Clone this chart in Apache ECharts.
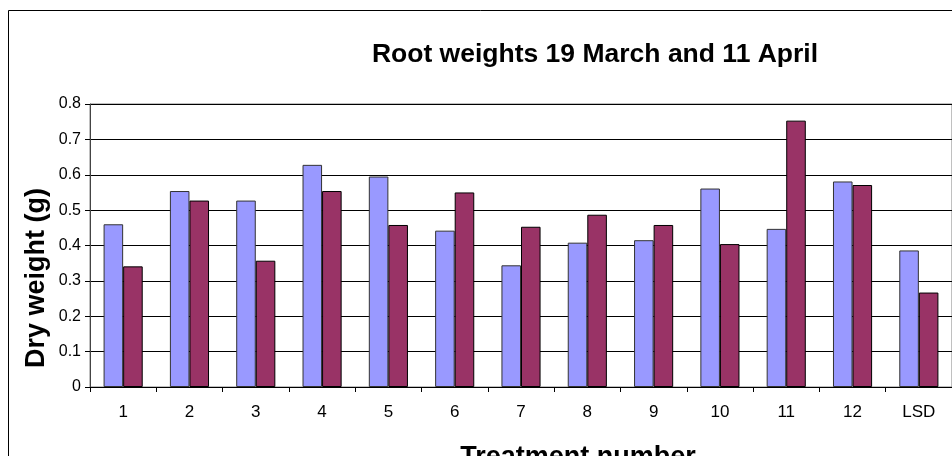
<!DOCTYPE html>
<html>
<head>
<meta charset="utf-8">
<script src="https://cdn.jsdelivr.net/npm/echarts@6/dist/echarts.min.js"></script>
<style>
  html, body { margin: 0; padding: 0; background: #fff; }
  #chart { width: 952px; height: 456px; }
</style>
</head>
<body>
<div id="chart"></div>
<script>
// treatment numbers on the x axis
const categories = ['1', '2', '3', '4', '5', '6', '7', '8', '9', '10', '11', '12', 'LSD']
// dry root weight (g)
const march19 = [0.46, 0.554, 0.527, 0.628, 0.595, 0.442, 0.344, 0.408, 0.415, 0.561, 0.447, 0.581, 0.386]
const april11 = [0.341, 0.527, 0.357, 0.554, 0.458, 0.55, 0.453, 0.487, 0.458, 0.404, 0.753, 0.571, 0.267]

const font = 'Liberation Sans, Arial, sans-serif'
const chart = echarts.init(document.getElementById('chart'))

chart.setOption({
  animation: false,
  title: [{
    text: 'Root weights 19 March and 11 April',
    left: 590,
    top: 36,
    textAlign: 'center',
    textStyle: { fontFamily: font, fontSize: 26.5, fontWeight: 'bold', color: '#000' }
  }, {
    // x axis title, centred on the (cropped) plot area like the original
    text: 'Treatment number',
    left: 573,
    top: 439,
    textAlign: 'center',
    textStyle: { fontFamily: font, fontSize: 27, fontWeight: 'bold', color: '#000' }
  }],
  graphic: [{
    // outer chart border
    type: 'rect',
    shape: { x: 8.5, y: 10.5, width: 1000, height: 500 },
    style: { fill: 'none', stroke: '#000', lineWidth: 1 },
    silent: true
  }, {
    // y axis title
    type: 'text',
    x: 37,
    y: 278,
    rotation: Math.PI / 2,
    style: {
      text: 'Dry weight (g)',
      font: 'bold 27px ' + font,
      fill: '#000',
      align: 'center',
      verticalAlign: 'middle'
    },
    silent: true
  }],
  grid: {
    left: 90,
    top: 104,
    width: 874,
    height: 283,
    show: true,
    borderColor: '#808080',
    borderWidth: 1
  },
  xAxis: {
    type: 'category',
    data: categories,
    axisLine: { lineStyle: { color: '#000', width: 1 } },
    axisTick: { show: true, alignWithLabel: false, length: 5, inside: false, lineStyle: { color: '#000' } },
    axisLabel: { fontFamily: font, fontSize: 17, color: '#000', margin: 17 }
  },
  yAxis: {
    type: 'value',
    min: 0,
    max: 0.8,
    interval: 0.1,
    axisLine: { show: true, lineStyle: { color: '#444', width: 1 } },
    axisTick: { show: true, length: 5, lineStyle: { color: '#000' } },
    axisLabel: {
      fontFamily: font, fontSize: 16, color: '#000', margin: 9,
      formatter: v => (v === 0 ? '0' : v.toFixed(1))
    },
    splitLine: { show: true, lineStyle: { color: '#000', width: 1 } }
  },
  series: [{
    name: '19 March',
    type: 'bar',
    data: march19,
    barGap: '0%',
    barCategoryGap: '41%',
    itemStyle: { color: '#9999FF', borderColor: '#333', borderWidth: 1 }
  }, {
    name: '11 April',
    type: 'bar',
    data: april11,
    barGap: '0%',
    barCategoryGap: '41%',
    itemStyle: { color: '#993366', borderColor: '#000', borderWidth: 1 }
  }]
})
</script>
</body>
</html>
